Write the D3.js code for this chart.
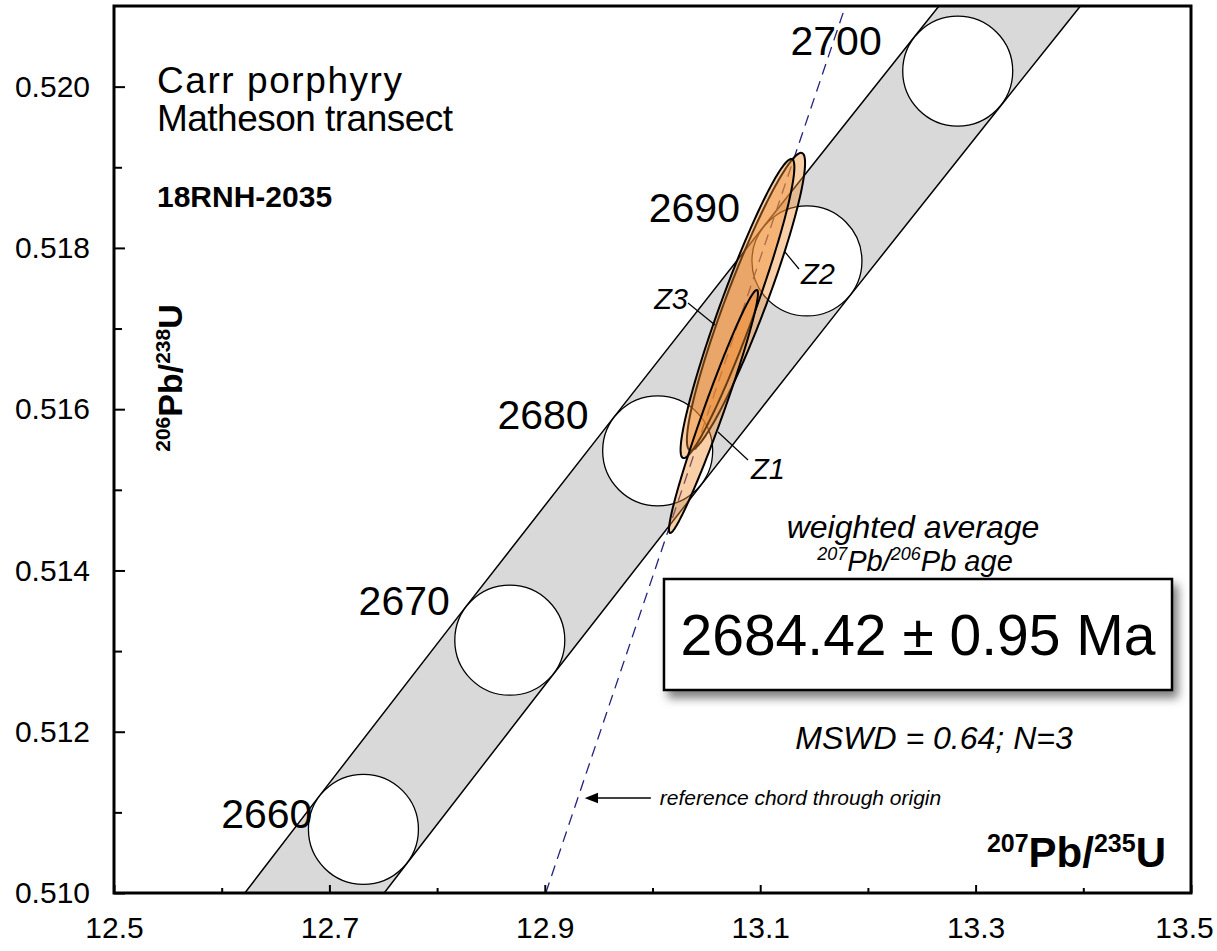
<!DOCTYPE html>
<html lang="en">
<head>
<meta charset="utf-8">
<title>Carr porphyry - concordia</title>
<script src="https://cdn.jsdelivr.net/npm/d3@7"></script>
<style>
    body { margin: 0; background: #fff; }
    svg { display: block; font-family: "Liberation Sans", Arial, sans-serif; }
</style>
</head>
<body>
<svg id="chart" width="1217" height="951"></svg>
<script>
    // concordia points (age in Ma, 207Pb/235U, 206Pb/238U)
    const concAges = [2650, 2660, 2670, 2680, 2690, 2700, 2710];
    const concX = [12.5970, 12.7316, 12.8675, 13.0048, 13.1434, 13.2834, 13.4247];
    const concY = [0.508448, 0.510790, 0.513135, 0.515483, 0.517838, 0.520193, 0.522553];
    const markerAges = [2660, 2670, 2680, 2690, 2700];

    // zircon analyses (2 sigma), drawn in this order
    const grains = ["Z2", "Z3", "Z1"];
    const r75 = [13.0868, 13.0789, 13.0566];
    const s75 = [0.05487, 0.05283, 0.04132];
    const r68 = [0.517335, 0.517248, 0.515971];
    const s68 = [0.001844, 0.001855, 0.001507];
    const rho = [0.932, 0.945, 0.972];

    // weighted mean 207Pb/206Pb age and its point on concordia
    const meanAge = "2684.42 ± 0.95 Ma";
    const meanPoint = [13.0659, 0.516523];
    const mswd = "MSWD = 0.64; N=3";

    const xTicks = [12.5, 12.7, 12.9, 13.1, 13.3, 13.5];
    const xMinor = [12.6, 12.8, 13.0, 13.2, 13.4];
    const yTicks = [0.510, 0.512, 0.514, 0.516, 0.518, 0.520];
    const yMinor = [0.511, 0.513, 0.515, 0.517, 0.519];

    const svg = d3.select("#chart");
    const x = d3.scaleLinear().domain([12.5, 13.5]).range([114, 1191]);
    const y = d3.scaleLinear().domain([0.510, 0.521]).range([893, 6]);
    const markerR = 55;
    // where each age label sits, relative to its marker (right end, baseline)
    const ageLabelShift = [[-51, -1], [-60, -25], [-69, -22], [-67, -39], [-76, -16]];

    const defs = svg.append("defs");
    defs.append("clipPath").attr("id", "plotClip").append("rect")
        .attr("x", x(12.5)).attr("y", y(0.521))
        .attr("width", x(13.5) - x(12.5)).attr("height", y(0.510) - y(0.521));
    const shadow = defs.append("filter").attr("id", "shadow")
        .attr("x", "-10%").attr("y", "-30%").attr("width", "130%").attr("height", "170%");
    shadow.append("feDropShadow").attr("dx", 5).attr("dy", 7).attr("stdDeviation", 5)
        .attr("flood-color", "#000").attr("flood-opacity", 0.5);
    defs.append("marker").attr("id", "arrow").attr("viewBox", "0 0 10 10")
        .attr("refX", 1).attr("refY", 5).attr("markerWidth", 9).attr("markerHeight", 9)
        .attr("orient", "auto-start-reverse")
        .append("path").attr("d", "M0,1 L10,5 L0,9 z").attr("fill", "#000");

    const plot = svg.append("g").attr("clip-path", "url(#plotClip)");

    // concordia band (black edge + grey fill)
    const conc = concAges.map((a, i) => [concX[i], concY[i]]);
    const concLine = d3.line().x(d => x(d[0])).y(d => y(d[1])).curve(d3.curveCatmullRom);
    plot.append("path").attr("d", concLine(conc)).attr("fill", "none")
        .attr("stroke", "#000").attr("stroke-width", 2 * markerR + 2);
    plot.append("path").attr("d", concLine(conc)).attr("fill", "none")
        .attr("stroke", "#d9d9d9").attr("stroke-width", 2 * markerR - 1);

    // age markers
    const markers = markerAges.map(a => {
        const i = concAges.indexOf(a);
        return {age: a, cx: x(concX[i]), cy: y(concY[i])};
    });
    plot.selectAll("circle.marker").data(markers).enter().append("circle")
        .attr("class", "marker")
        .attr("cx", d => d.cx).attr("cy", d => d.cy).attr("r", markerR)
        .attr("fill", "#fff").attr("stroke", "#000").attr("stroke-width", 1.3);

    // reference chord through origin
    const slope = meanPoint[1] / meanPoint[0];
    plot.append("line")
        .attr("x1", x(0.510 / slope)).attr("y1", y(0.510))
        .attr("x2", x(0.521 / slope)).attr("y2", y(0.521))
        .attr("stroke", "#23237e").attr("stroke-width", 1.3).attr("stroke-dasharray", "11,7");

    // error ellipses
    function ellipse(i) {
        const k = Math.sqrt(1 - rho[i] * rho[i]);
        return d3.range(0, 360, 2).map(deg => {
            const t = deg * Math.PI / 180;
            return [x(r75[i] + s75[i] * Math.cos(t)),
                y(r68[i] + s68[i] * (rho[i] * Math.cos(t) + k * Math.sin(t)))];
        });
    }
    plot.selectAll("path.ellipse").data(grains).enter().append("path")
        .attr("class", "ellipse")
        .attr("d", (d, i) => d3.line().curve(d3.curveLinearClosed)(ellipse(i)))
        .attr("fill", "#f08c30").attr("fill-opacity", 0.42)
        .attr("stroke", "#000").attr("stroke-width", 2);

    // age labels next to markers
    svg.selectAll("text.age").data(markers).enter().append("text")
        .attr("class", "age")
        .attr("x", (d, i) => d.cx + ageLabelShift[i][0])
        .attr("y", (d, i) => d.cy + ageLabelShift[i][1])
        .attr("text-anchor", "end").attr("font-size", 41)
        .text(d => d.age);

    // grain labels with leader lines
    const zLab = {
        Z1: {lx: 751, ly: 479, anchor: "start", from: [748, 460], to: [718, 432]},
        Z2: {lx: 801, ly: 284, anchor: "start", from: [799, 269], to: [785, 252]},
        Z3: {lx: 688, ly: 309, anchor: "end", from: [688, 303], to: [715, 325]}
    };
    grains.forEach(g => {
        const p = zLab[g];
        svg.append("line").attr("x1", p.from[0]).attr("y1", p.from[1])
            .attr("x2", p.to[0]).attr("y2", p.to[1])
            .attr("stroke", "#000").attr("stroke-width", 1.2);
        svg.append("text").attr("x", p.lx).attr("y", p.ly)
            .attr("text-anchor", p.anchor).attr("font-size", 29).attr("font-style", "italic")
            .text(g);
    });

    // axes
    svg.append("g").attr("transform", "translate(0," + y(0.510) + ")")
        .call(d3.axisBottom(x).tickValues(xTicks).tickSizeInner(-8).tickSizeOuter(0)
            .tickPadding(24).tickFormat(d3.format(".1f")));
    svg.append("g").attr("transform", "translate(0," + y(0.510) + ")")
        .call(d3.axisBottom(x).tickValues(xMinor).tickSizeInner(-5).tickSizeOuter(0).tickFormat(""));
    svg.append("g").attr("transform", "translate(" + x(12.5) + ",0)")
        .call(d3.axisLeft(y).tickValues(yTicks).tickSizeInner(-11).tickSizeOuter(0)
            .tickPadding(24).tickFormat(d3.format(".3f")));
    svg.append("g").attr("transform", "translate(" + x(12.5) + ",0)")
        .call(d3.axisLeft(y).tickValues(yMinor).tickSizeInner(-8).tickSizeOuter(0).tickFormat(""));
    svg.selectAll(".domain").remove();
    svg.selectAll(".tick line").attr("stroke", "#000").attr("stroke-width", 2);
    svg.selectAll(".tick text").attr("font-size", 30).attr("font-family", "Liberation Sans, Arial, sans-serif")
        .attr("fill", "#000");
    // last x label sits a little inside the frame
    svg.selectAll(".tick text").filter(d => d === 13.5).attr("dx", -7);

    // plot frame
    svg.append("rect").attr("x", x(12.5)).attr("y", y(0.521))
        .attr("width", x(13.5) - x(12.5)).attr("height", y(0.510) - y(0.521))
        .attr("fill", "none").attr("stroke", "#000").attr("stroke-width", 3);

    // axis titles
    const xt = svg.append("text").attr("x", 1166).attr("y", 867)
        .attr("text-anchor", "end").attr("font-weight", "bold");
    xt.append("tspan").attr("font-size", 25).attr("dy", -15).text("207");
    xt.append("tspan").attr("font-size", 42).attr("dy", 15).text("Pb/");
    xt.append("tspan").attr("font-size", 25).attr("dy", -15).text("235");
    xt.append("tspan").attr("font-size", 42).attr("dy", 15).text("U");

    const yt = svg.append("text").attr("transform", "translate(182,378) rotate(-90)")
        .attr("text-anchor", "middle").attr("font-weight", "bold");
    yt.append("tspan").attr("font-size", 21).attr("dy", -12).text("206");
    yt.append("tspan").attr("font-size", 34).attr("dy", 12).text("Pb/");
    yt.append("tspan").attr("font-size", 21).attr("dy", -12).text("238");
    yt.append("tspan").attr("font-size", 34).attr("dy", 12).text("U");

    // sample titles
    svg.append("text").attr("x", 157).attr("y", 93).attr("font-size", 37)
        .attr("textLength", 245).attr("lengthAdjust", "spacing").text("Carr porphyry");
    svg.append("text").attr("x", 157).attr("y", 131).attr("font-size", 37)
        .attr("textLength", 296).attr("lengthAdjust", "spacing").text("Matheson transect");
    svg.append("text").attr("x", 157).attr("y", 207).attr("font-size", 30).attr("font-weight", "bold")
        .text("18RNH-2035");

    // weighted average block
    svg.append("text").attr("x", 913).attr("y", 538).attr("text-anchor", "middle")
        .attr("font-size", 32).attr("font-style", "italic").text("weighted average");
    const pb = svg.append("text").attr("x", 915).attr("y", 571).attr("text-anchor", "middle")
        .attr("font-style", "italic");
    pb.append("tspan").attr("font-size", 18).attr("dy", -11).text("207");
    pb.append("tspan").attr("font-size", 29).attr("dy", 11).text("Pb/");
    pb.append("tspan").attr("font-size", 18).attr("dy", -11).text("206");
    pb.append("tspan").attr("font-size", 29).attr("dy", 11).text("Pb age");

    svg.append("rect").attr("x", 664).attr("y", 579).attr("width", 508).attr("height", 111)
        .attr("fill", "#fff").attr("stroke", "#000").attr("stroke-width", 2.5)
        .attr("filter", "url(#shadow)");
    svg.append("text").attr("x", 918).attr("y", 655).attr("text-anchor", "middle")
        .attr("font-size", 57).text(meanAge);
    svg.append("text").attr("x", 934).attr("y", 749).attr("text-anchor", "middle")
        .attr("font-size", 32).attr("font-style", "italic").text(mswd);

    // chord annotation
    const arrowY = y(0.511178);
    const arrowTip = x(0.511178 / slope) + 11;
    svg.append("line").attr("x1", arrowTip + 62).attr("y1", arrowY).attr("x2", arrowTip + 8).attr("y2", arrowY)
        .attr("stroke", "#000").attr("stroke-width", 1.5).attr("marker-end", "url(#arrow)");
    svg.append("text").attr("x", arrowTip + 71).attr("y", arrowY + 7)
        .attr("font-size", 21).attr("font-style", "italic").text("reference chord through origin");
</script>
</body>
</html>
